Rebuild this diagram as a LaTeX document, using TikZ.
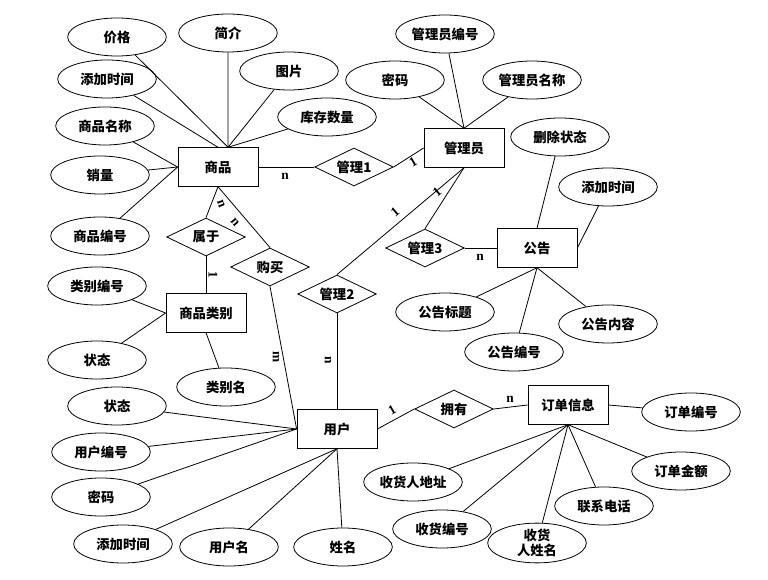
\documentclass[tikz,border=0pt]{standalone}
\usepackage{fontspec}
\newfontfamily\cjk{Noto Sans CJK SC}
\newfontfamily\latin{Liberation Serif}
\usetikzlibrary{shapes.geometric}

\begin{document}
\begin{tikzpicture}[
    x=0.75pt,
    y=-0.75pt,
    line width=0.6pt,
    entity/.style={
        draw,
        rectangle,
        minimum width=60pt,
        minimum height=29pt,
        font=\cjk\bfseries\fontsize{10}{12}\selectfont
    },
    attr/.style={
        draw,
        ellipse,
        inner sep=0pt,
        align=center,
        minimum width=74pt,
        minimum height=28.5pt,
        font=\cjk\bfseries\fontsize{10}{11.5}\selectfont
    },
    rel/.style={
        draw,
        diamond,
        aspect=2,
        inner sep=0pt,
        minimum width=59pt,
        minimum height=28.5pt,
        font=\cjk\bfseries\fontsize{10}{12}\selectfont
    },
    card/.style={
        inner sep=1pt,
        font=\latin\bfseries\fontsize{10}{12}\selectfont
    }
]
    \useasboundingbox (0,0) rectangle (768,580);

    % Entidades
    \node[entity] (goods) at (218,167) {商品};
    \node[entity] (admin) at (464,148) {管理员};
    \node[entity] (notice) at (537,248) {公告};
    \node[entity] (category) at (206,313) {商品类别};
    \node[entity] (user) at (337,429) {用户};
    \node[entity] (order) at (568,405) {订单信息};

    % Relacionamentos
    \node[rel] (manage1) at (354,167) {管理1};
    \node[rel] (manage2) at (337,294) {管理2};
    \node[rel] (manage3) at (425,248) {管理3};
    \node[rel] (belong) at (206,237) {属于};
    \node[rel] (buy) at (270,267) {购买};
    \node[rel] (own) at (454,409) {拥有};

    % Atributos de 商品
    \node[attr] (price) at (117,37) {价格};
    \node[attr] (intro) at (228,33) {简介};
    \node[attr] (pic) at (289,71) {图片};
    \node[attr] (gaddtime) at (107,79) {添加时间};
    \node[attr] (stock) at (327,117) {库存数量};
    \node[attr] (gname) at (105,126) {商品名称};
    \node[attr] (sales) at (100,175) {销量};
    \node[attr] (gid) at (100,236) {商品编号};

    % Atributos de 管理员
    \node[attr] (adminid) at (445,34) {管理员编号};
    \node[attr] (apwd) at (395,80) {密码};
    \node[attr] (aname) at (532,80) {管理员名称};

    % Atributos de 公告
    \node[attr] (delstate) at (560,137) {删除状态};
    \node[attr] (naddtime) at (608,187) {添加时间};
    \node[attr] (ntitle) at (445,312) {公告标题};
    \node[attr] (ncontent) at (608,324) {公告内容};
    \node[attr] (nid) at (514,352) {公告编号};

    % Atributos de 商品类别
    \node[attr] (catid) at (97,286) {类别编号};
    \node[attr] (catstate) at (97,360) {状态};
    \node[attr] (catname) at (226,387) {类别名};

    % Atributos de 用户
    \node[attr] (ustate) at (117,406) {状态};
    \node[attr] (uid) at (101,452) {用户编号};
    \node[attr] (upwd) at (101,497) {密码};
    \node[attr] (uaddtime) at (123,544) {添加时间};
    \node[attr] (uname) at (229,547) {用户名};
    \node[attr] (realname) at (343,547) {姓名};

    % Atributos de 订单信息
    \node[attr] (orderid) at (691,412) {订单编号};
    \node[attr] (amount) at (681,471) {订单金额};
    \node[attr] (phone) at (604,506) {联系电话};
    \node[attr] (address) at (413,482) {收货人地址};
    \node[attr] (recvid) at (442,529) {收货编号};
    \node[attr] (recvname) at (537,543) {收货\\人姓名};

    % Linhas dos atributos
    \draw (price) -- (goods.63);
    \draw (intro) -- (goods.63);
    \draw (pic) -- (goods.63);
    \draw (stock) -- (goods.63);
    \draw (gaddtime) -- (goods.north);
    \draw (gname) -- (goods.west);
    \draw (sales) -- (goods.west);
    \draw (gid) -- (goods.west);

    \draw (adminid) -- (admin.north);
    \draw (apwd) -- (admin.north);
    \draw (aname) -- (admin.north);

    \draw (delstate) -- (notice.north);
    \draw (naddtime) -- (notice.east);
    \draw (ntitle) -- (notice.south);
    \draw (ncontent) -- (notice.south);
    \draw (nid) -- (notice.south);

    \draw (catid) -- (category.west);
    \draw (catstate) -- (category.west);
    \draw (catname) -- (category.south);

    \draw (ustate) -- (user.west);
    \draw (uid) -- (user.west);
    \draw (upwd) -- (user.west);
    \draw (uaddtime) -- (user.south);
    \draw (uname) -- (user.south);
    \draw (realname) -- (user.south);

    \draw (orderid) -- (order.east);
    \draw (amount) -- (order.south);
    \draw (phone) -- (order.south);
    \draw (address) -- (order.south);
    \draw (recvid) -- (order.south);
    \draw (recvname) -- (order.south);

    % Linhas dos relacionamentos
    \draw (goods.east) -- (manage1.west);
    \draw (manage1.east) -- (admin.west);
    \draw (goods.south) -- (belong.north);
    \draw (goods.south) -- (buy.north);
    \draw (belong.south) -- (category.north);
    \draw (buy.south) -- (user.west);
    \draw (admin.south) -- (manage2.north);
    \draw (admin.south) -- (manage3.north);
    \draw (manage2.south) -- (user.north);
    \draw (manage3.east) -- (notice.west);
    \draw (user.east) -- (own.west);
    \draw (own.east) -- (order.west);

    % Cardinalidades
    \node[card] (c1) at (285,176) {n};
    \node[card, rotate=30] (c2) at (413,162) {1};
    \node[card, rotate=-70] (c3) at (221,204) {n};
    \node[card, rotate=-50] (c4) at (235,222) {n};
    \node[card, rotate=-90] (c5) at (213,275) {1};
    \node[card, rotate=-90] (c6) at (276,357) {m};
    \node[card, rotate=-90] (c7) at (328,360) {n};
    \node[card, rotate=40] (c8) at (437,192) {1};
    \node[card, rotate=40] (c9) at (395,212) {1};
    \node[card] (c10) at (480,257) {n};
    \node[card, rotate=30] (c11) at (392,410) {1};
    \node[card] (c12) at (510,399) {n};
\end{tikzpicture}
\end{document}
